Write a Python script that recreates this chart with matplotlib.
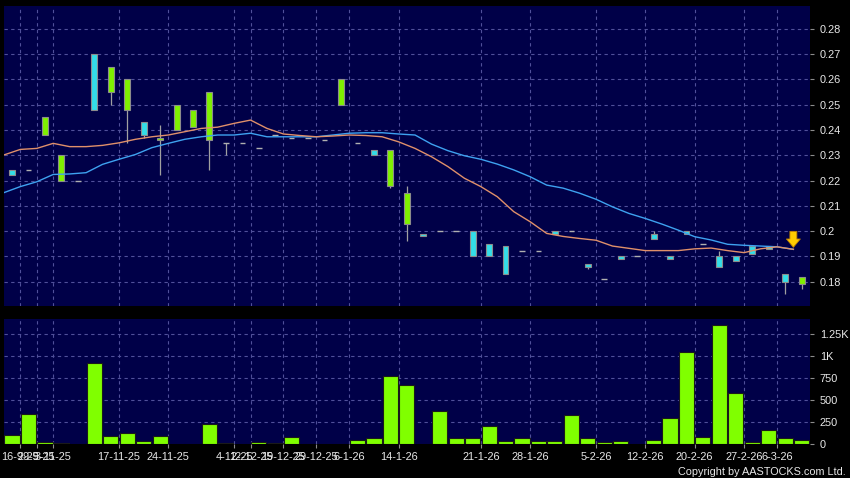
import numpy as np
import matplotlib.pyplot as plt

# daily candles (one slot per trading day shown)
opens = [0.224, 0.224, 0.238, 0.220, 0.220, 0.270, 0.255, 0.248, 0.243, 0.236,
         0.240, 0.241, 0.236, 0.235, 0.235, 0.233, 0.238, 0.237, 0.237, 0.236,
         0.250, 0.235, 0.232, 0.218, 0.203, 0.199, 0.200, 0.200, 0.200, 0.195,
         0.194, 0.192, 0.192, 0.200, 0.200, 0.187, 0.181, 0.190, 0.190, 0.199,
         0.190, 0.200, 0.195, 0.190, 0.190, 0.194, 0.194, 0.183, 0.179]
highs = [0.224, 0.224, 0.245, 0.230, 0.220, 0.270, 0.265, 0.260, 0.243, 0.242,
         0.250, 0.248, 0.255, 0.235, 0.235, 0.233, 0.238, 0.237, 0.237, 0.236,
         0.260, 0.235, 0.232, 0.232, 0.218, 0.199, 0.200, 0.200, 0.200, 0.195,
         0.194, 0.192, 0.192, 0.200, 0.200, 0.187, 0.181, 0.190, 0.190, 0.200,
         0.190, 0.200, 0.195, 0.192, 0.190, 0.194, 0.194, 0.183, 0.182]
lows = [0.222, 0.224, 0.238, 0.220, 0.220, 0.248, 0.250, 0.235, 0.237, 0.222,
        0.240, 0.241, 0.224, 0.230, 0.235, 0.233, 0.238, 0.237, 0.237, 0.236,
        0.250, 0.235, 0.230, 0.217, 0.196, 0.198, 0.200, 0.200, 0.190, 0.190,
        0.183, 0.192, 0.192, 0.199, 0.200, 0.185, 0.181, 0.189, 0.190, 0.197,
        0.189, 0.199, 0.195, 0.186, 0.188, 0.191, 0.193, 0.175, 0.177]
closes = [0.222, 0.224, 0.245, 0.230, 0.220, 0.248, 0.265, 0.260, 0.238, 0.237,
          0.250, 0.248, 0.255, 0.235, 0.235, 0.233, 0.238, 0.237, 0.237, 0.236,
          0.260, 0.235, 0.230, 0.232, 0.215, 0.198, 0.200, 0.200, 0.190, 0.190,
          0.183, 0.192, 0.192, 0.199, 0.200, 0.186, 0.181, 0.189, 0.190, 0.197,
          0.189, 0.199, 0.195, 0.186, 0.188, 0.191, 0.193, 0.180, 0.182]
volume = [100, 333, 15, 5, 0, 917, 80, 121, 30, 83,
          0, 0, 220, 3, 0, 15, 3, 76, 0, 0,
          0, 42, 57, 773, 663, 0, 375, 57, 61, 200,
          30, 61, 30, 27, 326, 61, 19, 30, 0, 42,
          295, 1042, 76, 1345, 576, 15, 155, 61, 42]

ma_fast = [0.2301, 0.2323, 0.2327, 0.2347, 0.2334, 0.2334, 0.2339, 0.2349, 0.2363, 0.2373,
           0.2380, 0.2393, 0.2406, 0.2411, 0.2426, 0.2439, 0.2406, 0.2384, 0.2378, 0.2373,
           0.2376, 0.2380, 0.2378, 0.2373, 0.2353, 0.2327, 0.2294, 0.2255, 0.2209, 0.2176,
           0.2136, 0.2077, 0.2037, 0.1991, 0.1979, 0.1971, 0.1964, 0.1941, 0.1932, 0.1923,
           0.1923, 0.1923, 0.1930, 0.1933, 0.1923, 0.1915, 0.1930, 0.1938, 0.1928]
ma_slow = [0.2152, 0.2176, 0.2195, 0.2224, 0.2226, 0.2231, 0.2264, 0.2284, 0.2303, 0.2330,
           0.2347, 0.2363, 0.2373, 0.2380, 0.2380, 0.2387, 0.2373, 0.2373, 0.2373, 0.2373,
           0.2380, 0.2387, 0.2389, 0.2389, 0.2384, 0.2380, 0.2344, 0.2318, 0.2298, 0.2284,
           0.2265, 0.2242, 0.2215, 0.2182, 0.2170, 0.2150, 0.2126, 0.2096, 0.2070, 0.2050,
           0.2028, 0.2004, 0.1978, 0.1965, 0.1948, 0.1944, 0.1941, 0.1938, 0.1928]

date_pos = [0.5, 1.5, 2.5, 6.5, 9.5, 13.5, 14.5, 16.5, 18.5, 20.5,
            23.5, 28.5, 31.5, 35.5, 38.5, 41.5, 44.5, 46.5]
date_labels = ['16-9-25', '29-9-25', '3-11-25', '17-11-25', '24-11-25', '4-12-25',
               '12-12-25', '19-12-25', '29-12-25', '6-1-26', '14-1-26', '21-1-26',
               '28-1-26', '5-2-26', '12-2-26', '20-2-26', '27-2-26', '6-3-26']

price_ticks = [0.18, 0.19, 0.20, 0.21, 0.22, 0.23, 0.24, 0.25, 0.26, 0.27, 0.28]
price_labels = ['0.18', '0.19', '0.2', '0.21', '0.22', '0.23', '0.24', '0.25', '0.26', '0.27', '0.28']
vol_ticks = [0, 250, 500, 750, 1000, 1250]
vol_labels = ['0', '250', '500', '750', '1K', '1.25K']

arrow_x = 47.5
arrow_tip = 0.1925

navy = '#000048'
gridc = '#50509a'
up_c = '#7ff000'
down_c = '#33dde8'
edge = '#8c8c8c'
txt = '#e8e8e8'

plt.rcParams['font.family'] = ['Liberation Sans', 'DejaVu Sans']

fig = plt.figure(figsize=(8.5, 4.78), dpi=100, facecolor='black')
ax1 = fig.add_axes([4/850, 1-306/478, 806/850, 300/478], facecolor=navy)
ax2 = fig.add_axes([4/850, 1-443.5/478, 806/850, 124.5/478], facecolor=navy)

x = np.arange(len(opens))
o = np.array(opens); c = np.array(closes)

# grids
for ax in (ax1, ax2):
    for p in date_pos:
        ax.axvline(p, color=gridc, lw=0.8, ls=(0, (3, 3)), zorder=0)
    for s in ax.spines.values():
        s.set_visible(False)
    ax.set_xlim(-0.49, 48.51)
    ax.yaxis.tick_right()
    ax.tick_params(axis='y', colors=edge, labelcolor=txt, labelsize=7.9, length=3, width=0.8, pad=4)
for p in price_ticks:
    ax1.axhline(p, color=gridc, lw=0.8, ls=(0, (3, 3)), zorder=0)
for v in vol_ticks[1:]:
    ax2.axhline(v, color=gridc, lw=0.8, ls=(0, (3, 3)), zorder=0)

# candles
ax1.vlines(x, lows, highs, color='#a0a0a0', lw=0.9, zorder=2)
body = np.abs(c - o)
is_up = c > o
is_flat = body < 1e-9
colors = np.where(is_up, up_c, down_c)
ax1.bar(x[~is_flat], body[~is_flat], bottom=np.minimum(o, c)[~is_flat], width=0.36,
        color=colors[~is_flat], edgecolor=edge, linewidth=0.8, zorder=3)
ax1.hlines(o[is_flat], x[is_flat] - 0.17, x[is_flat] + 0.17, color='#b0b0b0', lw=1.0, zorder=3)

# moving averages
ax1.plot(x - 0.5, ma_slow, color='#3ea2f0', lw=1.0, zorder=4)
ax1.plot(x - 0.5, ma_fast, color='#e0906a', lw=1.0, zorder=4)

ax1.annotate('', xy=(arrow_x, arrow_tip), xytext=(arrow_x, arrow_tip + 0.0085),
             arrowprops=dict(arrowstyle='simple,head_width=1.0,head_length=0.6,tail_width=0.5',
                             mutation_scale=10, fc='#ffcc00', ec='#c08000', lw=0.6), zorder=6)

ax1.set_ylim(0.1704, 0.2890)
ax1.set_yticks(price_ticks)
ax1.set_yticklabels(price_labels)
ax1.set_xticks([])

# volume
ax2.bar(x, volume, width=0.92, color='#80ff00', edgecolor='#1a1a1a', linewidth=0.8, zorder=3)
ax2.set_ylim(0, 1417)
ax2.set_yticks(vol_ticks)
ax2.set_yticklabels(vol_labels)
ax2.set_xticks(date_pos)
ax2.set_xticklabels(date_labels)
ax2.tick_params(axis='x', colors=edge, labelcolor=txt, labelsize=7.9, length=3, width=0.8, pad=3)

fig.text(846/850, 1-472/478, 'Copyright by AASTOCKS.com Ltd.', color=txt, fontsize=7.8,
         ha='right', va='center')

fig.savefig('out.png', dpi=100, facecolor='black')
